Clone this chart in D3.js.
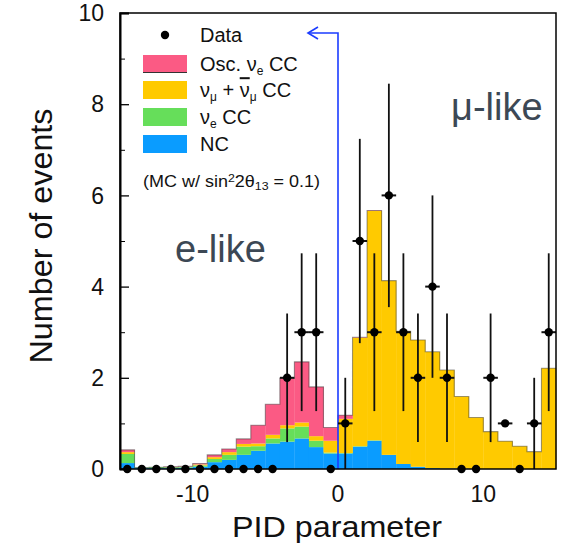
<!DOCTYPE html>
<html>
<head>
<meta charset="utf-8">
<script src="https://cdn.jsdelivr.net/npm/d3@7"></script>
<style>
  body { margin: 0; background: #fff; }
  text { font-family: "Liberation Sans", Arial, Helvetica, sans-serif; }
</style>
</head>
<body>
<svg id="chart" width="561" height="545"></svg>
<script>
// PID parameter histogram: unit-wide bins from -15 to 15
const binLow = d3.range(-15, 15);

// Expected events per bin, one array per MC component (sin^2 2θ13 = 0.1)
const ncEvents = [0.13, 0.02, 0.02, 0.02, 0.03, 0.05, 0.15, 0.20, 0.31, 0.40,
                  0.56, 0.60, 0.67, 0.48, 0.34, 0.34, 0.49, 0.62, 0.31, 0.11,
                  0.05, 0.02, 0.01, 0.01, 0, 0, 0, 0, 0, 0];
const beamNueEvents = [0.20, 0.01, 0.02, 0.02, 0.02, 0.03, 0.07, 0.11, 0.18, 0.10,
                       0.11, 0.29, 0.26, 0.14, 0.02, 0.01, 0.01, 0.01, 0, 0,
                       0, 0, 0, 0, 0, 0, 0, 0, 0, 0];
const numuEvents = [0.04, 0, 0, 0, 0, 0.02, 0.04, 0.06, 0.06, 0.06,
                    0.08, 0.07, 0.09, 0.10, 0.26, 0.75, 2.38, 5.03, 3.82, 2.91,
                    2.78, 2.55, 2.16, 1.58, 1.13, 0.82, 0.61, 0.50, 0.38, 2.21];
const oscNueEvents = [0.05, 0, 0, 0.01, 0.01, 0.02, 0.05, 0.07, 0.11, 0.40,
                      0.67, 1.03, 1.33, 1.08, 0.29, 0.08, 0.01, 0.01, 0, 0,
                      0, 0, 0, 0, 0, 0, 0, 0, 0, 0];

// Observed events per bin and their error bars
const dataCounts = [0, 0, 0, 0, 0, 0, 0, 0, 0, 0, 0, 2, 3, 3, 0,
                    1, 5, 3, 6, 3, 2, 4, 2, 0, 0, 2, 1, 0, 1, 3];
const dataErrors = [0, 0, 0, 0, 0, 0, 0, 0, 0, 0, 0, 1.41, 1.73, 1.73, 0,
                    1, 2.24, 1.73, 2.45, 1.73, 1.41, 2, 1.41, 0, 0, 1.41, 0, 0, 1, 1.73];

const yTicks = [0, 2, 4, 6, 8, 10];
const xTicks = [-10, 0, 10];
const pidCut = 0;

const colors = {
  nc: "#0a9cff",
  beamNue: "#66de5a",
  numu: "#ffca00",
  oscNue: "#fb5a84"
};

const svg = d3.select("#chart");
svg.append("rect").attr("width", 561).attr("height", 545).attr("fill", "#fff");

const x = d3.scaleLinear().domain([-15, 15]).range([120, 556]);
const y = d3.scaleLinear().domain([0, 10]).range([469, 13]);

// Stack components bottom-up: NC, beam nu_e, nu_mu, oscillated nu_e
const keys = ["nc", "beamNue", "numu", "oscNue"];
const rows = binLow.map((lo, i) => ({
  lo,
  nc: ncEvents[i],
  beamNue: beamNueEvents[i],
  numu: numuEvents[i],
  oscNue: oscNueEvents[i]
}));
const stacked = d3.stack().keys(keys)(rows);

const plot = svg.append("g");
stacked.forEach(layer => {
  plot.append("g")
    .attr("fill", colors[layer.key])
    .selectAll("rect")
    .data(layer)
    .join("rect")
    .attr("x", d => x(d.data.lo))
    .attr("width", d => x(d.data.lo + 1) - x(d.data.lo) + 0.3)
    .attr("y", d => y(d[1]))
    .attr("height", d => Math.max(0, y(d[0]) - y(d[1])));
});

// Outline of total expectation as a step line
const totals = rows.map(r => keys.reduce((s, k) => s + r[k], 0));
const stepPts = [];
binLow.forEach((lo, i) => {
  stepPts.push([x(lo), y(totals[i])]);
  stepPts.push([x(lo + 1), y(totals[i])]);
});
plot.append("path")
  .attr("d", d3.line()(stepPts))
  .attr("fill", "none")
  .attr("stroke", "#3a3a3a")
  .attr("stroke-opacity", 0.5)
  .attr("stroke-width", 1.1);

// Cut line at PID = 0 with arrow pointing to the e-like side
const arrowY = 33;
const arrowTipX = x(pidCut) - 30;
const cutG = svg.append("g").attr("stroke", "#1b3cff").attr("fill", "none").attr("stroke-width", 1.6);
cutG.append("path").attr("d", `M${x(pidCut)},${y(0)} V${arrowY} H${arrowTipX}`);
cutG.append("path").attr("d", `M${arrowTipX + 10},${arrowY - 6} L${arrowTipX},${arrowY} L${arrowTipX + 10},${arrowY + 6}`);

// Data points with error bars
const dataG = svg.append("g");
const pts = binLow.map((lo, i) => ({ c: lo + 0.5, lo, n: dataCounts[i], e: dataErrors[i] }));
dataG.selectAll("line.ey")
  .data(pts.filter(p => p.e > 0))
  .join("line")
  .attr("x1", d => x(d.c)).attr("x2", d => x(d.c))
  .attr("y1", d => y(d.n + d.e)).attr("y2", d => y(Math.max(0, d.n - d.e)))
  .attr("stroke", "#111").attr("stroke-width", 1.8);
dataG.selectAll("line.ex")
  .data(pts.filter(p => p.n > 0))
  .join("line")
  .attr("x1", d => x(d.lo)).attr("x2", d => x(d.lo + 1))
  .attr("y1", d => y(d.n)).attr("y2", d => y(d.n))
  .attr("stroke", "#111").attr("stroke-width", 2);
dataG.selectAll("circle")
  .data(pts)
  .join("circle")
  .attr("cx", d => x(d.c)).attr("cy", d => y(d.n))
  .attr("r", 4.2).attr("fill", "#000");

// Frame and axes
svg.append("rect")
  .attr("x", x(-15)).attr("y", y(10))
  .attr("width", x(15) - x(-15)).attr("height", y(0) - y(10))
  .attr("fill", "none").attr("stroke", "#000").attr("stroke-width", 1.5);

const yAxis = d3.axisRight(y).tickValues(yTicks).tickSize(9).tickFormat("");
svg.append("g").attr("transform", `translate(${x(-15)},0)`).call(yAxis)
  .call(g => g.select(".domain").attr("stroke-width", 2))
  .call(g => g.selectAll(".tick line").attr("stroke-width", 1.3));
const yMinor = d3.axisRight(y).tickValues(d3.range(0, 10.01, 1).filter(v => v % 2 !== 0)).tickSize(5).tickFormat("");
svg.append("g").attr("transform", `translate(${x(-15)},0)`).call(yMinor)
  .call(g => g.select(".domain").remove());

svg.append("g").selectAll("text")
  .data(yTicks)
  .join("text")
  .attr("x", 104).attr("y", d => y(d))
  .attr("dy", "0.36em")
  .attr("text-anchor", "end")
  .attr("font-size", 23)
  .attr("fill", "#111")
  .text(d => d);

svg.append("g").selectAll("text")
  .data(xTicks)
  .join("text")
  .attr("x", d => x(d)).attr("y", 502)
  .attr("text-anchor", "middle")
  .attr("font-size", 23)
  .attr("fill", "#111")
  .text(d => d < 0 ? "-" + Math.abs(d) : d);

// Axis titles
svg.append("text")
  .attr("x", 337).attr("y", 537)
  .attr("text-anchor", "middle")
  .attr("font-size", 30)
  .attr("textLength", 210).attr("lengthAdjust", "spacingAndGlyphs")
  .attr("fill", "#111")
  .text("PID parameter");
svg.append("text")
  .attr("transform", "translate(52,236) rotate(-90)")
  .attr("text-anchor", "middle")
  .attr("font-size", 31)
  .attr("textLength", 255).attr("lengthAdjust", "spacingAndGlyphs")
  .attr("fill", "#111")
  .text("Number of events");

// Region labels
svg.append("text").attr("x", 175).attr("y", 262).attr("font-size", 38)
  .attr("fill", "#3c4855").text("e-like");
svg.append("text").attr("x", 451).attr("y", 120).attr("font-size", 38)
  .attr("fill", "#3c4855").text("μ-like");

// Legend
const lg = svg.append("g").attr("fill", "#111");
const textX = 200;
lg.append("circle").attr("cx", 165).attr("cy", 35).attr("r", 4.2).attr("fill", "#000");
lg.append("text").attr("x", textX).attr("y", 35).attr("dy", "0.36em").attr("font-size", 20).text("Data");

const legendRows = [
  { key: "oscNue", y: 55 },
  { key: "numu", y: 81 },
  { key: "beamNue", y: 108 },
  { key: "nc", y: 135 }
];
legendRows.forEach(r => {
  lg.append("rect").attr("x", 143).attr("y", r.y).attr("width", 44).attr("height", 18)
    .attr("fill", colors[r.key]);
});
lg.append("line").attr("x1", 143).attr("x2", 187).attr("y1", 72.5).attr("y2", 72.5)
  .attr("stroke", "#333").attr("stroke-width", 1.2);

function legendLabel(yc, parts) {
  const t = lg.append("text").attr("x", textX).attr("y", yc).attr("dy", "0.36em").attr("font-size", 20);
  parts.forEach(p => {
    const s = t.append("tspan").text(p.t);
    if (p.sub) s.attr("font-size", 12).attr("baseline-shift", "-30%");
    if (p.bar) s.style("text-decoration", "overline");
  });
  return t;
}
legendLabel(64, [{ t: "Osc. ν" }, { t: "e", sub: true }, { t: " CC" }]);
legendLabel(90, [{ t: "ν" }, { t: "μ", sub: true }, { t: " + " }, { t: "ν", bar: true }, { t: "μ", sub: true }, { t: " CC" }]);
legendLabel(117, [{ t: "ν" }, { t: "e", sub: true }, { t: " CC" }]);
legendLabel(144, [{ t: "NC" }]);

const note = lg.append("text").attr("x", 143).attr("y", 181).attr("dy", "0.36em").attr("font-size", 16)
  .attr("textLength", 177).attr("lengthAdjust", "spacingAndGlyphs");
note.append("tspan").text("(MC w/ sin");
note.append("tspan").text("2").attr("font-size", 11).attr("baseline-shift", "45%");
note.append("tspan").text("2θ");
note.append("tspan").text("13").attr("font-size", 11).attr("baseline-shift", "-30%");
note.append("tspan").text(" = 0.1)");
</script>
</body>
</html>
